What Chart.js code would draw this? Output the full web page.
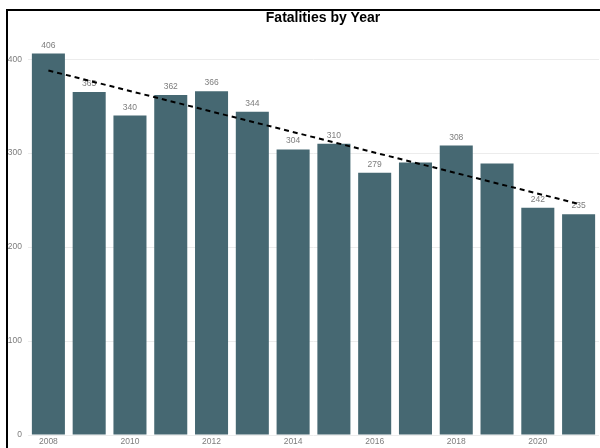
<!DOCTYPE html>
<html>
<head>
<meta charset="utf-8">
<script src="https://cdn.jsdelivr.net/npm/chart.js@4"></script>
<style>
    body { margin: 0; background: #fff; }
    #marco {
        position: absolute; left: 6px; top: 9px; width: 594px; height: 439px;
        border-top: 2px solid #000; border-left: 2px solid #000; box-sizing: border-box;
    }
    #lienzo { position: absolute; left: 0; top: 0; }
</style>
</head>
<body>
<div id="marco"></div>
<canvas id="lienzo" width="600" height="448"></canvas>
<script>
const anios = ['2008', '2009', '2010', '2011', '2012', '2013', '2014', '2015', '2016', '2017', '2018', '2019', '2020', '2021'];
const muertes = [406, 365, 340, 362, 366, 344, 304, 310, 279, 290, 308, 289, 242, 235];
// etiquetas que se ven encima de cada barra ('' = oculta)
const etiquetas = ['406', '365', '340', '362', '366', '344', '304', '310', '279', '', '308', '', '242', '235'];
// linea de tendencia: solo primer y ultimo punto
const tendencia = [388, null, null, null, null, null, null, null, null, null, null, null, null, 246];
const marcasY = [0, 100, 200, 300, 400];
const titulo = 'Fatalities by Year';

const gris = '#7d7d7d';
const fuenteChica = { family: "'Liberation Sans', Arial, sans-serif", size: 8.5 };

const etiquetasBarras = {
    id: 'etiquetasBarras',
    afterDatasetDraw(chart, args) {
        if (args.index !== 0) return;
        const ctx = chart.ctx;
        ctx.save();
        ctx.fillStyle = gris;
        ctx.font = "8.5px 'Liberation Sans', Arial, sans-serif";
        ctx.textAlign = 'center';
        ctx.textBaseline = 'bottom';
        args.meta.data.forEach((barra, i) => {
            if (etiquetas[i]) ctx.fillText(etiquetas[i], barra.x, barra.y - 4);
        });
        ctx.restore();
    }
};

// el titulo va corrido a la derecha, como en el original
const tituloPropio = {
    id: 'tituloPropio',
    afterDraw(chart) {
        const ctx = chart.ctx;
        ctx.save();
        ctx.fillStyle = '#000';
        ctx.font = "bold 14px 'Liberation Sans', Arial, sans-serif";
        ctx.textAlign = 'center';
        ctx.textBaseline = 'middle';
        ctx.fillText(titulo, 323, 18);
        ctx.restore();
    }
};

new Chart(document.getElementById('lienzo').getContext('2d'), {
    type: 'bar',
    data: {
        labels: anios,
        datasets: [
            {
                data: muertes,
                backgroundColor: '#466872',
                categoryPercentage: 1,
                barPercentage: 0.81,
                order: 2
            },
            {
                type: 'line',
                data: tendencia,
                borderColor: '#000',
                borderWidth: 2,
                borderDash: [5, 4],
                pointRadius: 0,
                spanGaps: true,
                fill: false,
                order: 1
            }
        ]
    },
    options: {
        responsive: false,
        animation: false,
        layout: { padding: { top: 31, right: 1 } },
        plugins: {
            legend: { display: false },
            tooltip: { enabled: false },
            title: { display: false }
        },
        scales: {
            x: {
                grid: { display: false, drawTicks: false },
                border: { display: false },
                ticks: {
                    autoSkip: false,
                    maxRotation: 0,
                    padding: 2,
                    color: gris,
                    font: fuenteChica,
                    callback: (v, i) => (i % 2 === 0 ? anios[i] : '')
                },
                afterFit: (escala) => { escala.height = 13; }
            },
            y: {
                min: 0,
                max: 430,
                grid: { color: '#ececec', drawTicks: false },
                border: { display: false },
                ticks: { padding: 6, color: gris, font: fuenteChica },
                afterBuildTicks: (escala) => { escala.ticks = marcasY.map(v => ({ value: v })); },
                afterFit: (escala) => { escala.width = 28; }
            }
        }
    },
    plugins: [etiquetasBarras, tituloPropio]
});
</script>
</body>
</html>
